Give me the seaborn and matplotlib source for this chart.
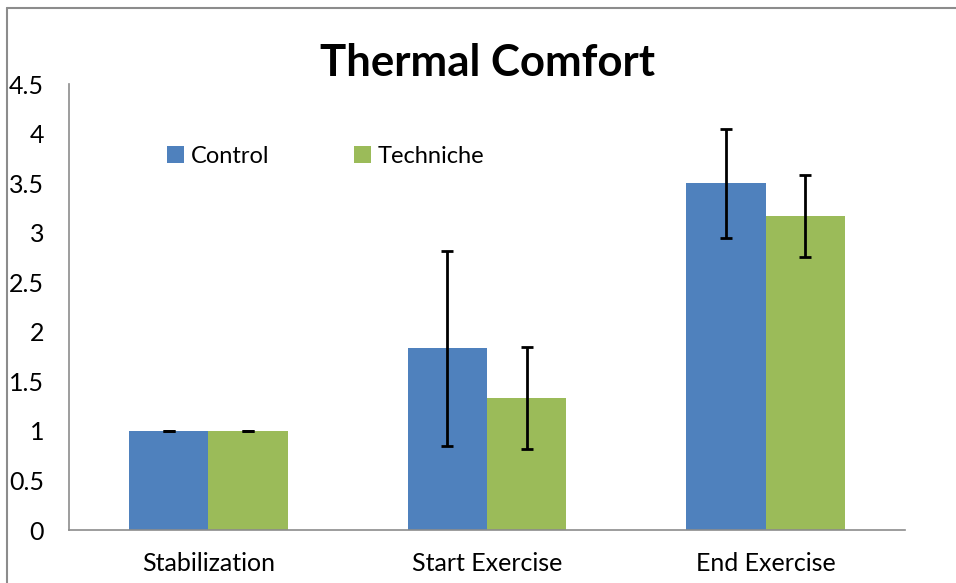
import pandas as pd
import numpy as np
import seaborn as sns
import matplotlib.pyplot as plt
from matplotlib.lines import Line2D

# Datos
fases = ["Stabilization", "Start Exercise", "End Exercise"]
grupos = ["Control", "Techniche"]
control = [1.0, 1.833, 3.5]
techniche = [1.0, 1.333, 3.167]
control_err = [0.0, 0.985, 0.55]
techniche_err = [0.0, 0.517, 0.41]

df = pd.DataFrame({
    "Fase": fases * 2,
    "Grupo": [grupos[0]] * 3 + [grupos[1]] * 3,
    "Valor": control + techniche,
    "Error": control_err + techniche_err,
})

sns.set_style("white")
plt.rcParams["font.family"] = ["Lato", "DejaVu Sans"]
plt.rcParams["text.color"] = "black"
plt.rcParams["xtick.color"] = "black"
plt.rcParams["ytick.color"] = "black"

fig = plt.figure(figsize=(9.56, 5.83), dpi=100)
ax = fig.add_axes([0.0722, 0.0909, 0.8745, 0.765])

colores = {"Control": "#4F81BD", "Techniche": "#9BBB59"}
sns.barplot(data=df, x="Fase", y="Valor", hue="Grupo", palette=colores,
            width=0.57, errorbar=None, saturation=1, ax=ax, linewidth=0)

# Barras de error en el centro de cada barra
for patch, (_, fila) in zip(ax.patches, df.iterrows()):
    xc = patch.get_x() + patch.get_width() / 2
    ax.errorbar(xc, patch.get_height(), yerr=fila["Error"], color="black",
                elinewidth=2, capsize=4.3, capthick=2, fmt="none")

ax.set_ylim(0, 4.5)
ax.set_yticks(np.arange(0, 4.51, 0.5))
ax.set_yticklabels(["0", "0.5", "1", "1.5", "2", "2.5", "3", "3.5", "4", "4.5"])
ax.set_xlim(-0.5, 2.5)
ax.set_xlabel("")
ax.set_ylabel("")
ax.tick_params(axis="both", length=0, labelsize=18, labelcolor="black")
ax.tick_params(axis="y", pad=18)
ax.tick_params(axis="x", pad=16)
for s in ["top", "right"]:
    ax.spines[s].set_visible(False)
for s in ["left", "bottom"]:
    ax.spines[s].set_color("#8c8c8c")
    ax.spines[s].set_linewidth(1.2)

leg = ax.legend(ncol=2, frameon=False, loc="center left", bbox_to_anchor=(0.092, 0.838),
                fontsize=17, handlelength=0.7, handleheight=0.7, handletextpad=0.3,
                columnspacing=3.6)
for t in leg.get_texts():
    t.set_color("black")

fig.text(0.51, 0.892, "Thermal Comfort", ha="center", va="center",
         fontsize=31.5, fontweight="bold", color="black")

# Marco exterior del grafico
fig.add_artist(Line2D([0.0073, 1.0], [0.986, 0.986], color="#8c8c8c", lw=1.5))
fig.add_artist(Line2D([0.0073, 0.0073], [0.0, 0.986], color="#8c8c8c", lw=1.5))

fig.savefig("out.png", dpi=100)
